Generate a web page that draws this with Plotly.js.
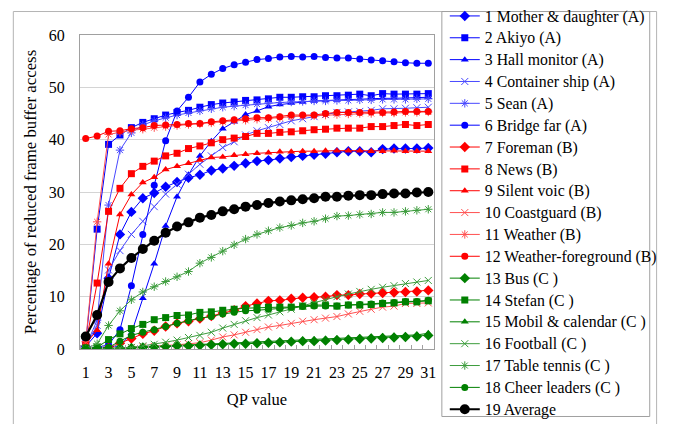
<!DOCTYPE html>
<html>
<head>
<meta charset="utf-8">
<script src="https://cdn.plot.ly/plotly-3.0.1.min.js"></script>
<style>html,body{margin:0;padding:0;background:#fff;}#chart{width:674px;height:424px;}</style>
</head>
<body>
<div id="chart"></div>
<script>
var qp = [1,2,3,4,5,6,7,8,9,10,11,12,13,14,15,16,17,18,19,20,21,22,23,24,25,26,27,28,29,30,31];
var xTickVals = [1,3,5,7,9,11,13,15,17,19,21,23,25,27,29,31];

var names = ["1 Mother & daughter (A)","2 Akiyo (A)","3 Hall monitor (A)","4 Container ship (A)","5 Sean (A)","6 Bridge far (A)",
  "7 Foreman (B)","8 News (B)","9 Silent voic (B)","10 Coastguard (B)","11 Weather (B)","12 Weather-foreground (B)",
  "13 Bus (C )","14 Stefan (C )","15 Mobil & calendar (C )","16 Football (C )","17 Table tennis (C )","18 Cheer leaders (C )","19 Average"];

var mother = [0.5,3,13.5,21.9,26.2,28.8,29.8,31.0,31.9,32.7,33.3,34.1,34.5,35.0,35.5,35.9,36.1,36.4,36.7,36.9,37.1,37.3,37.6,37.8,37.8,37.6,38.2,38.3,38.3,38.3,38.4];
var akiyo = [1.0,22.9,39.1,40.9,42.3,43.3,44.0,44.7,45.2,45.6,46.2,46.7,47.0,47.2,47.5,47.6,47.8,48.1,48.1,48.2,48.2,48.4,48.4,48.5,48.7,48.4,48.8,48.7,48.7,48.7,48.8];
var hall = [0,0.2,0.3,0.6,3.0,9.7,16.3,23.5,29.1,33.3,36.9,39.7,42.1,43.4,44.8,45.5,46.3,46.7,47.0,47.2,47.4,47.5,47.6,47.7,47.8,47.8,47.9,47.9,48.0,48.0,48.1];
var container = [0.5,4.5,15.1,18.8,21.9,24.4,27.2,29.6,31.5,33.4,35.3,36.9,38.5,39.6,40.9,41.7,42.3,42.9,43.6,44.0,44.4,44.8,45.2,45.3,45.4,45.6,45.9,45.9,46.0,46.1,46.2];
var sean = [0.5,5.5,27.5,38.0,41.3,42.8,43.6,44.2,44.7,45.1,45.5,45.9,46.2,46.4,46.6,46.8,47.0,47.1,47.2,47.3,47.4,47.4,47.5,47.5,47.6,47.6,47.7,47.7,47.7,47.8,47.8];
var bridge = [0,0.3,0.8,3.7,12.1,21.9,31.3,39.8,45.5,48.1,51.0,52.5,53.6,54.3,54.8,55.3,55.5,55.8,55.9,55.8,55.9,55.7,55.6,55.6,55.4,55.2,55.1,54.9,54.7,54.6,54.6];
var foreman = [0,0,0.2,1.1,2.0,2.9,3.5,4.3,4.9,5.3,5.8,6.3,6.9,7.4,8.2,8.7,9.2,9.3,9.6,9.8,9.9,10.0,10.3,10.3,10.5,10.6,10.7,10.8,10.9,11.0,11.2];
var news = [0.9,12.6,26.3,30.7,33.5,34.9,35.9,36.9,37.4,38.3,38.8,39.4,40.0,40.3,40.6,41.2,41.2,41.4,41.5,41.7,41.9,42.0,42.2,42.2,42.2,42.5,42.5,42.7,42.9,42.7,42.9];
var silent = [1.0,3.6,16.3,25.7,29.5,31.8,32.8,34.3,34.9,35.5,36.1,36.6,36.7,37.0,37.2,37.4,37.5,37.7,37.7,37.8,37.8,37.9,37.9,37.9,37.9,37.8,37.8,37.9,37.8,37.8,37.8];
var coast = [0,0,0.1,0.2,0.3,0.4,0.5,0.6,0.8,1.0,1.2,1.7,2.3,2.7,3.2,3.7,4.2,4.5,4.9,5.3,5.6,5.9,6.2,6.7,7.2,7.6,8.0,8.2,8.7,8.7,8.8];
var weather = [1.4,24.3,41.0,41.4,41.8,42.0,42.3,42.5,42.7,42.9,43.0,43.2,43.4,43.6,43.7,43.9,44.0,44.2,44.4,44.5,44.6,44.7,44.8,44.9,45.0,45.0,45.1,45.1,45.2,45.2,45.3];
var wfg = [40.2,40.7,41.6,41.7,42.1,42.3,42.7,42.8,42.9,43.1,43.1,43.4,43.6,43.8,44.0,44.2,44.2,44.4,44.7,44.7,44.7,45.0,45.2,45.2,45.2,45.3,45.2,45.3,45.4,45.4,45.4];
var bus = [0,0,0,0.1,0.2,0.3,0.4,0.5,0.6,0.6,0.7,0.8,0.9,1.0,1.0,1.1,1.2,1.3,1.4,1.5,1.5,1.6,1.7,1.8,1.9,2.0,2.1,2.2,2.3,2.4,2.6];
var stefan = [0.2,0.3,1.8,2.9,3.9,4.7,5.6,6.0,6.4,6.5,7.0,7.1,7.4,7.6,7.8,7.9,8.0,8.0,8.0,8.2,8.4,8.4,8.2,8.4,8.4,8.5,8.7,8.8,9.0,9.0,9.2];
var mobil = [0,0,0.1,0.2,0.3,0.4,0.5,0.6,0.7,0.8,0.9,1.0,1.1,1.1,1.2,1.3,1.4,1.5,1.6,1.7,1.8,1.9,2.0,2.1,2.2,2.3,2.4,2.5,2.6,2.7,3.0];
var football = [0,0,0.1,0.2,0.3,0.6,0.9,1.3,1.7,2.2,2.6,3.2,4.0,4.7,5.4,6.0,6.5,7.1,7.6,8.2,8.8,9.4,10.0,10.5,11.0,11.4,11.8,12.1,12.5,12.8,13.1];
var tennis = [0,1.0,4.5,7.3,9.4,10.9,11.9,12.9,13.8,14.8,16.4,17.5,18.7,19.9,21.0,21.9,22.6,23.2,23.6,24.1,24.4,24.9,25.4,25.5,25.7,25.8,26.1,26.1,26.3,26.5,26.7];
var cheer = [0,0.1,0.3,1.5,2.6,3.2,3.7,4.3,4.9,5.4,5.9,6.2,6.7,7.0,7.3,7.4,7.6,7.8,8.0,8.1,8.2,8.2,8.2,8.4,8.5,8.6,8.8,8.9,9.1,9.1,9.3];
var average = [2.4,6.5,12.8,15.4,17.4,19.1,20.7,22.2,23.4,24.2,25.1,25.6,26.3,26.7,27.2,27.5,27.9,28.2,28.4,28.6,28.8,29.1,29.1,29.3,29.4,29.4,29.6,29.7,29.7,29.9,30.0];

var seriesValues = [mother,akiyo,hall,container,sean,bridge,foreman,news,silent,coast,weather,wfg,bus,stefan,mobil,football,tennis,cheer,average];
var colors = ["#0000ff","#0000ff","#0000ff","#4848ff","#4848ff","#0000ff",
  "#ff0000","#ff0000","#ff0000","#ff5050","#ff5050","#ff0000",
  "#008000","#008000","#008000","#3c9c3c","#3c9c3c","#008000","#000000"];
var symbols = ["diamond","square","triangle-up","x-thin-open","asterisk-open","circle",
  "diamond","square","triangle-up","x-thin-open","asterisk-open","circle",
  "diamond","square","triangle-up","x-thin-open","asterisk-open","circle","circle"];

var traces = seriesValues.map(function(vals, i){
  var isAvg = i === 18;
  var thin = symbols[i].indexOf("open") >= 0;
  var sz = isAvg ? 10 : (symbols[i] === "diamond" ? 8 : 7);
  return {
    x: qp, y: vals, type: "scatter", mode: "lines+markers",
    name: '<span style="font-size:15.8px">' + names[i].replace(/&/g, "&amp;") + '</span>',
    line: {color: colors[i], width: isAvg ? 2.2 : 1},
    marker: {symbol: symbols[i], color: colors[i], size: sz,
             line: {color: colors[i], width: thin ? 1 : 0}}
  };
});

var serif = "Liberation Serif";
var layout = {
  width: 674, height: 424,
  margin: {l: 80, r: 233, t: 28, b: 75},
  paper_bgcolor: "#ffffff", plot_bgcolor: "#ffffff",
  font: {family: serif, size: 16, color: "#000"},
  showlegend: true,
  legend: {x: (452-80)/361, xanchor: "left", y: 1 + (28-5)/321, yanchor: "top",
           bgcolor: "rgba(0,0,0,0)", borderwidth: 0, maxheight: 1,
           font: {family: serif, size: 14.5, color: "#000"}, traceorder: "normal"},
  xaxis: {range: [0.5, 31.5], tickvals: xTickVals, ticktext: xTickVals.map(String),
          ticks: "", showgrid: false, zeroline: false,
          showline: true, linecolor: "#a0a0a0", linewidth: 1, mirror: true,
          ticklabelstandoff: 9,
          minor: {tick0: 0.5, dtick: 1, ticks: "inside", ticklen: 4, tickcolor: "#a0a0a0", showgrid: false},
          tickfont: {family: serif, size: 16},
          title: {text: "QP value", font: {family: serif, size: 16.5}, standoff: 13}},
  yaxis: {range: [0, 60], dtick: 10, tick0: 0, ticks: "", showgrid: true, gridcolor: "#d4d4d4",
          zeroline: false, showline: true, linecolor: "#a0a0a0", linewidth: 1, mirror: true,
          ticklabelstandoff: 11,
          tickfont: {family: serif, size: 16},
          title: {text: "Percentage of reduced frame buffer access", font: {family: serif, size: 16.8}, standoff: 7}},
  shapes: [
    {type: "rect", xref: "paper", yref: "paper", x0: (12-80)/361, x1: (668-80)/361,
     y0: -(430-349)/321, y1: 1 + (28-4)/321, line: {color: "#b4b4b4", width: 1}},
    {type: "rect", xref: "paper", yref: "paper", x0: (449-80)/361, x1: (661-80)/361,
     y0: -(418-349)/321, y1: 1 + (28-4)/321, line: {color: "#a0a0a0", width: 1}}
  ]
};

Plotly.newPlot("chart", traces, layout, {displayModeBar: false, staticPlot: true});
</script>
</body>
</html>
